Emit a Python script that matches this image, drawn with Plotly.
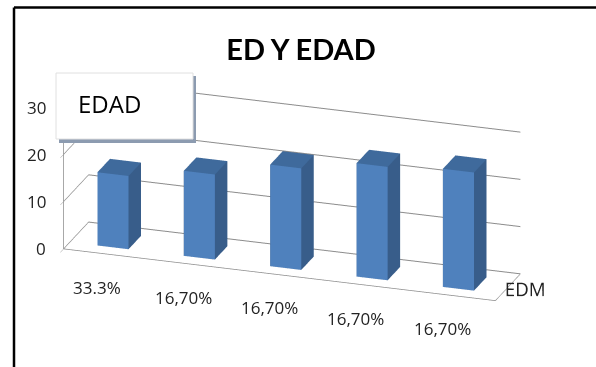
import math
import plotly.graph_objects as go

categories = ["33.3%", "16,70%", "16,70%", "16,70%", "16,70%"]
values = [15.5, 18, 21.5, 24, 25]
z_ticks = [0, 10, 20, 30]
series_name = "EDAD"
depth_label = "EDM"
title = "ED Y EDAD"

FRONT = "#4F81BD"
SIDE = "#385D8A"
TOP = "#3F6A9C"

bw = 0.36
y0, y1 = 0.25, 0.75

xs, ys, zs, I, J, K, fc = [], [], [], [], [], [], []
for idx, v in enumerate(values):
    x0, x1 = idx - bw / 2, idx + bw / 2
    base = len(xs)
    corners = [(x0, y0, 0), (x1, y0, 0), (x1, y1, 0), (x0, y1, 0),
               (x0, y0, v), (x1, y0, v), (x1, y1, v), (x0, y1, v)]
    for c in corners:
        xs.append(c[0]); ys.append(c[1]); zs.append(c[2])
    faces = [
        ((0, 1, 5), FRONT), ((0, 5, 4), FRONT),
        ((1, 2, 6), SIDE), ((1, 6, 5), SIDE),
        ((4, 5, 6), TOP), ((4, 6, 7), TOP),
        ((3, 2, 6), SIDE), ((3, 6, 7), SIDE),
        ((0, 3, 7), SIDE), ((0, 7, 4), SIDE),
        ((0, 1, 2), SIDE), ((0, 2, 3), SIDE),
    ]
    for (a, b, c), col in faces:
        I.append(base + a); J.append(base + b); K.append(base + c); fc.append(col)

fig = go.Figure()
fig.add_trace(go.Mesh3d(
    x=xs, y=ys, z=zs, i=I, j=J, k=K, facecolor=fc, flatshading=True,
    lighting=dict(ambient=1, diffuse=0, specular=0, roughness=1, fresnel=0),
    hoverinfo="skip", name=series_name, showlegend=False,
))

el = math.radians(21)
az = math.radians(18.5)
dist = 2.6
eye = dict(x=dist * math.cos(el) * math.sin(az), y=-dist * math.cos(el) * math.cos(az), z=dist * math.sin(el))

sc = 0.86
axis_common = dict(showbackground=False, showspikes=False, zeroline=False,
                   gridcolor="#8C8C8C", linecolor="#8C8C8C", linewidth=1.5,
                   tickfont=dict(family="Open Sans", size=15, color="#222222"),
                   tickangle=0, title=dict(text=""))

label_font = dict(family="Open Sans", size=17, color="#222222")
scene_annotations = [
    dict(x=i, y=0, z=0, text=lab, showarrow=False, xshift=-10, yshift=-33, font=label_font)
    for i, lab in enumerate(categories)
] + [
    dict(x=-0.5, y=0, z=t, text=str(t), showarrow=False, xanchor="right", xshift=-16, yshift=0,
         font=label_font)
    for t in z_ticks
]

fig.update_layout(
    width=596, height=367,
    margin=dict(l=0, r=0, t=0, b=0),
    paper_bgcolor="white",
    title=dict(text="<b>" + title + "</b>", x=0.505, xanchor="center", y=0.865, yanchor="middle",
               font=dict(family="Lato", size=29, color="black")),
    scene=dict(
        domain=dict(x=[0.0, 0.98], y=[0.0, 0.962]),
        xaxis=dict(axis_common, range=[-0.5, 4.5], tickvals=list(range(len(categories))),
                   ticktext=categories, showgrid=False, showline=True, mirror=True,
                   showticklabels=False),
        yaxis=dict(axis_common, range=[0, 1], tickvals=[0.5], ticktext=[depth_label],
                   showgrid=False, showline=True, mirror=True),
        zaxis=dict(axis_common, range=[0, 30], tickvals=z_ticks, showgrid=True,
                   showline=True, ticks="outside", ticklen=5, tickcolor="#8C8C8C",
                   showticklabels=False),
        aspectmode="manual", aspectratio=dict(x=3.0 * sc, y=0.52 * sc, z=1.0 * sc),
        camera=dict(eye=eye, center=dict(x=0, y=0, z=0), up=dict(x=0, y=0, z=1),
                    projection=dict(type="orthographic")),
        annotations=scene_annotations,
    ),
    shapes=[
        dict(type="line", xref="paper", yref="paper", x0=14 / 596, x1=1, y0=1 - 7.5 / 367, y1=1 - 7.5 / 367,
             line=dict(color="black", width=2.5)),
        dict(type="line", xref="paper", yref="paper", x0=14 / 596, x1=14 / 596, y0=0, y1=1 - 7.5 / 367,
             line=dict(color="black", width=2.5)),
        dict(type="rect", xref="paper", yref="paper", x0=59 / 596, x1=196 / 596, y0=1 - 143 / 367, y1=1 - 76 / 367,
             fillcolor="#8C9BB0", line=dict(width=0), layer="above"),
        dict(type="rect", xref="paper", yref="paper", x0=56 / 596, x1=193 / 596, y0=1 - 139 / 367, y1=1 - 73 / 367,
             fillcolor="white", line=dict(color="#E0E0E0", width=1), layer="above"),
    ],
    annotations=[
        dict(text=series_name, xref="paper", yref="paper", x=76 / 596, y=1 - 103 / 367, xanchor="left",
             yanchor="middle", showarrow=False, font=dict(family="Open Sans", size=24, color="black")),
    ],
)

fig.write_html("out.html")
